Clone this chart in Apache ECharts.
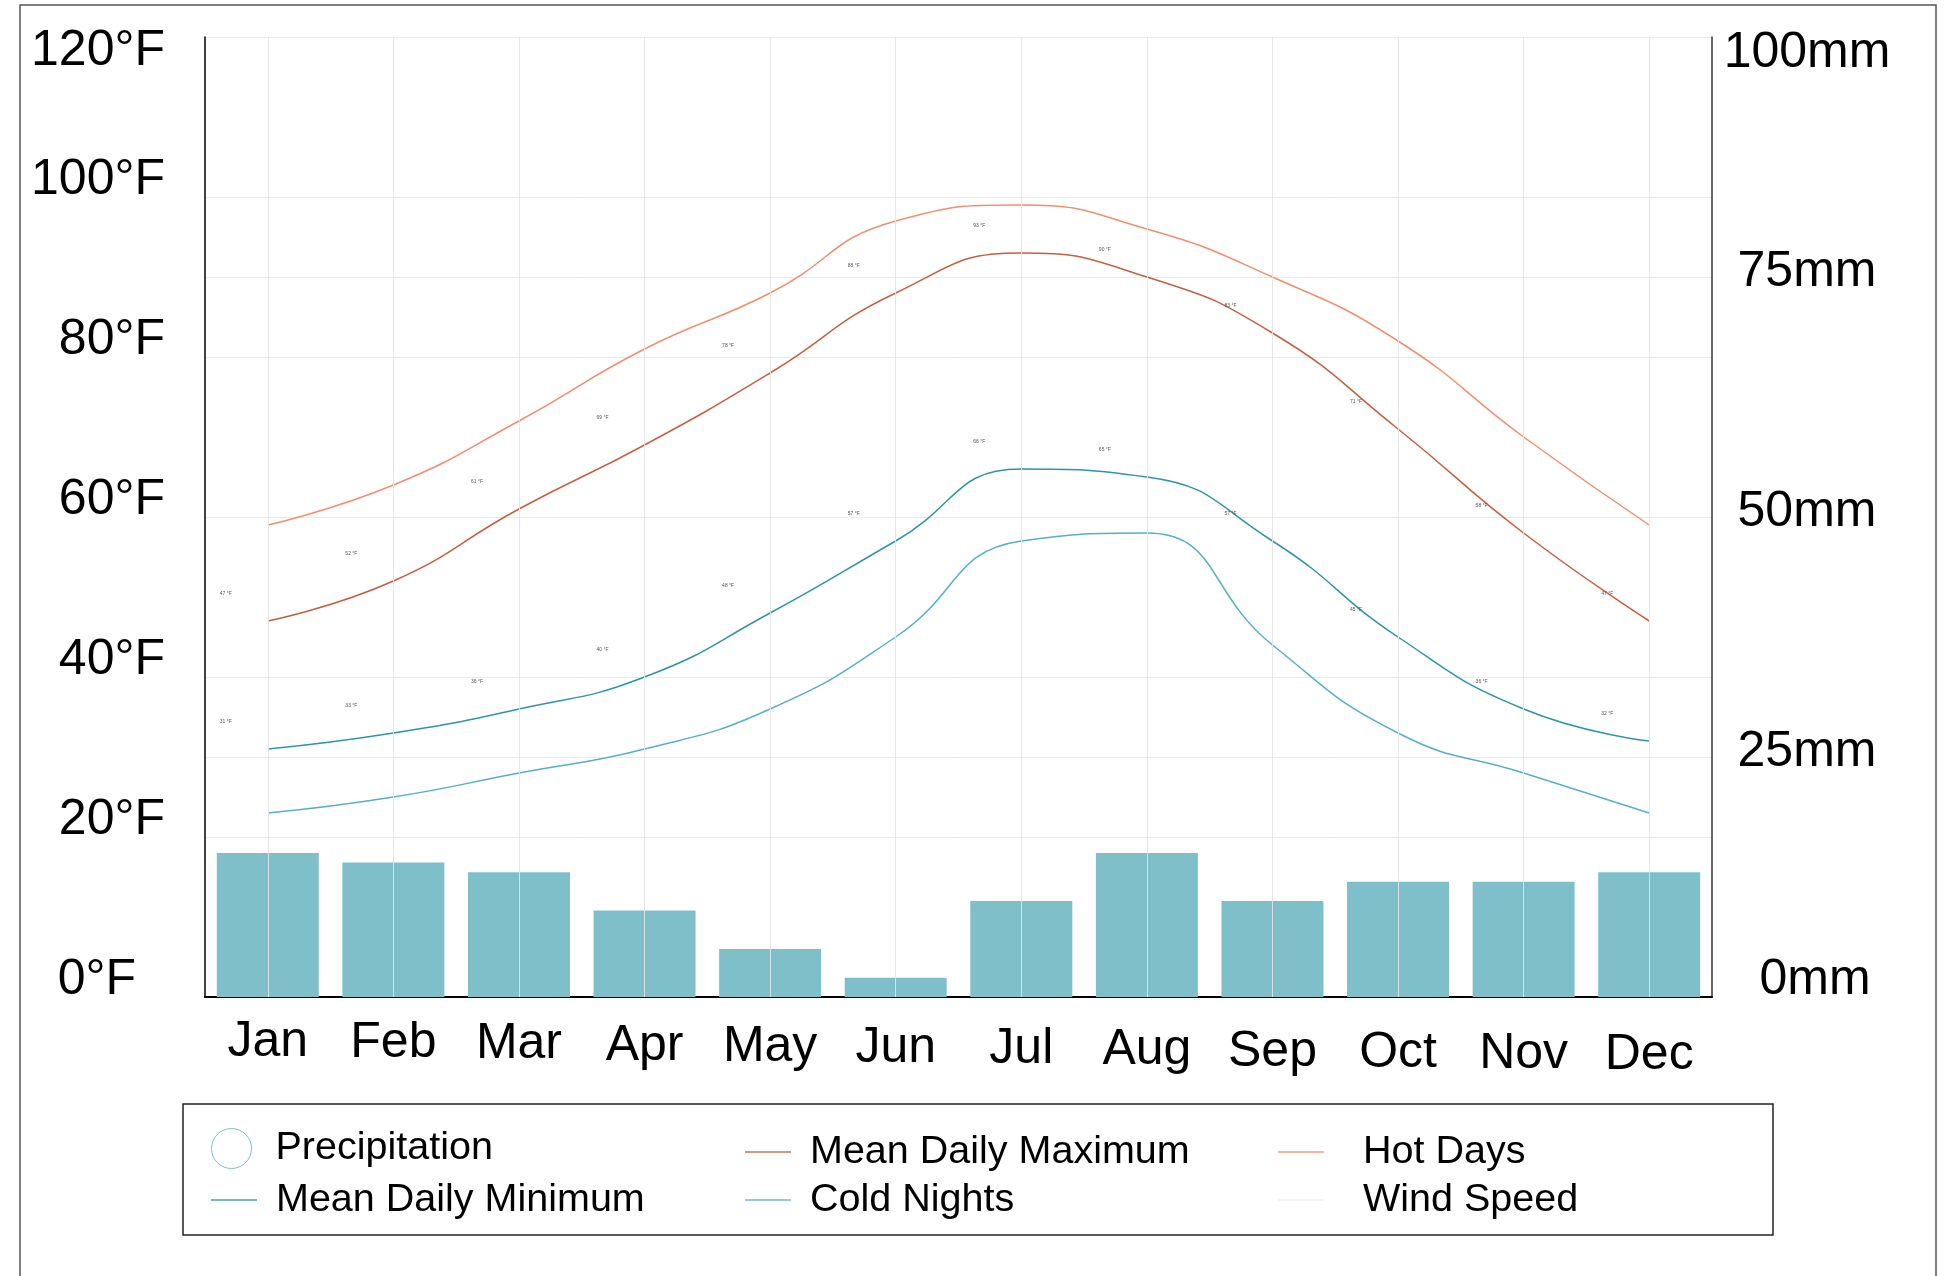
<!DOCTYPE html>
<html>
<head>
<meta charset="utf-8">
<style>
  html, body { margin: 0; padding: 0; background: #fff; }
  #climate { width: 1950px; height: 1276px; }
</style>
<script src="https://cdn.jsdelivr.net/npm/echarts@6/dist/echarts.min.js"></script>
</head>
<body>
<div id="climate"></div>
<script>
var months = ['Jan', 'Feb', 'Mar', 'Apr', 'May', 'Jun', 'Jul', 'Aug', 'Sep', 'Oct', 'Nov', 'Dec'];
// precipitation, mm
var precipitation = [15, 14, 13, 9, 5, 2, 10, 15, 10, 12, 12, 13];
// temperatures, °F
var meanDailyMax = [47, 52, 61, 69, 78, 88, 93, 90, 83, 71, 58, 47];
var hotDays = [59, 64, 72, 81, 88, 97, 99, 96, 90, 82, 70, 59];
var meanDailyMin = [31, 33, 36, 40, 48, 57, 66, 65, 57, 45, 36, 32];
var coldNights = [23, 25, 28, 31, 36, 45, 57, 58, 44, 33, 28, 23];
var windSpeed = [];
var tempTicks = [0, 20, 40, 60, 80, 100, 120];
var rainTicks = [0, 25, 50, 75, 100];

var FONT = '"Liberation Sans", Arial, sans-serif';

var climate = document.getElementById('climate');
var climateChart = echarts.init(climate);

// x labels drift down a little from Jan to Dec
var monthRich = {};
for (var k = 0; k < 12; k++) {
	monthRich['m' + k] = { fontSize: 50, fontFamily: FONT, color: '#000', padding: [Math.round(k * 1.2), 0, 0, 0] };
}

function tinyLabel() {
	return {
		show: true,
		formatter: '{c} °F',
		fontSize: 5,
		color: '#555',
		fontFamily: FONT,
		position: 'top',
		offset: [-42, -20]
	};
}

function lineSeries(name, data, color, withLabel) {
	return {
		name: name,
		type: 'line',
		yAxisIndex: 0,
		data: data,
		smooth: 0.5,
		symbol: 'circle',
		symbolSize: 0,
		showSymbol: true,
		itemStyle: { color: color },
		lineStyle: { color: color, width: 1.5 },
		label: withLabel ? tinyLabel() : { show: false },
		silent: true,
		z: 3
	};
}

function legendItem(name, left, top, icon, itemHeight, gap) {
	return {
		data: [{ name: name, icon: icon }],
		left: left,
		top: top,
		padding: 0,
		itemWidth: 46,
		itemHeight: itemHeight,
		selectedMode: false,
		itemStyle: icon === 'circle'
			? { color: '#fff', borderColor: '#7fbfca', borderWidth: 1 }
			: { opacity: 0.65 },
		formatter: function (n) { return '{t|' + n + '}'; },
		textStyle: {
			color: '#000',
			rich: { t: { fontSize: 39.5, fontFamily: FONT, color: '#000', lineHeight: 40, padding: [0, 0, 0, gap] } }
		}
	};
}

var option = {
	backgroundColor: '#fff',
	animation: false,
	grid: { left: 205, right: 238, top: 37, bottom: 279 },
	graphic: [
		{ type: 'rect', shape: { x: 20, y: 5, width: 1916, height: 1300 }, style: { fill: null, stroke: '#555', lineWidth: 1.5 }, silent: true },
		{ type: 'rect', shape: { x: 183, y: 1104, width: 1590, height: 131 }, style: { fill: null, stroke: '#222', lineWidth: 1.5 }, silent: true }
	],
	legend: [
		legendItem('Precipitation', 211, 1128, 'circle', 40, 16),
		legendItem('Mean Daily Minimum', 211, 1180, 'rect', 2, 14),
		legendItem('Mean Daily Maximum', 745, 1132, 'rect', 2, 14),
		legendItem('Cold Nights', 745, 1180, 'rect', 2, 14),
		legendItem('Hot Days', 1278, 1132, 'rect', 2, 34),
		legendItem('Wind Speed', 1278, 1180, 'rect', 2, 34)
	],
	xAxis: {
		type: 'category',
		data: months,
		boundaryGap: true,
		axisLine: { show: true, lineStyle: { color: '#000', width: 2 } },
		axisTick: { show: false },
		splitLine: { show: false },
		axisLabel: {
			margin: 20,
			formatter: function (v, i) { return '{m' + i + '|' + v + '}'; },
			rich: monthRich
		}
	},
	yAxis: [
		{
			type: 'value',
			position: 'left',
			min: tempTicks[0],
			max: tempTicks[tempTicks.length - 1],
			interval: 20,
			axisLine: { show: true, lineStyle: { color: '#000', width: 1.5 } },
			axisTick: { show: false },
			splitLine: { show: true, lineStyle: { color: '#ebebeb', width: 1 } },
			axisLabel: {
				margin: 40,
				formatter: function (v) {
					if (v === 120) return '{dn|' + v + '°F}';
					if (v === 0) return '{zero|' + v + '°F}';
					return '{up|' + v + '°F}';
				},
				rich: {
					up: { fontSize: 50, fontFamily: FONT, color: '#000', padding: [0, 0, 34, 0] },
					zero: { fontSize: 50, fontFamily: FONT, color: '#000', padding: [0, 29, 34, 0] },
					dn: { fontSize: 50, fontFamily: FONT, color: '#000', padding: [28, 0, 0, 0] }
				}
			}
		},
		{
			type: 'value',
			position: 'right',
			min: rainTicks[0],
			max: rainTicks[rainTicks.length - 1],
			interval: 25,
			axisLine: { show: true, lineStyle: { color: '#333', width: 1.5 } },
			axisTick: { show: false },
			splitLine: { show: true, lineStyle: { color: '#ebebeb', width: 1 } },
			axisLabel: {
				margin: 95,
				align: 'center',
				formatter: function (v) {
					if (v === 100) return '{dn|' + v + 'mm}';
					if (v === 0) return '{up2|' + v + 'mm}';
					return '{up|' + v + 'mm}';
				},
				rich: {
					up: { fontSize: 50, fontFamily: FONT, color: '#000', padding: [0, 0, 10, 0] },
					up2: { fontSize: 50, fontFamily: FONT, color: '#000', padding: [0, 0, 34, 16] },
					dn: { fontSize: 50, fontFamily: FONT, color: '#000', padding: [32, 0, 0, 0] }
				}
			}
		}
	],
	series: [
		{
			name: 'Precipitation',
			type: 'bar',
			yAxisIndex: 1,
			data: precipitation,
			barWidth: 102,
			itemStyle: { color: '#7fbfca' },
			silent: true,
			markLine: {
				silent: true,
				symbol: ['none', 'none'],
				label: { show: false },
				lineStyle: { color: '#e4e4e4', width: 1, type: 'solid', opacity: 0.9 },
				data: months.map(function (m) { return { xAxis: m }; })
			}
		},
		lineSeries('Mean Daily Maximum', meanDailyMax, '#c65f40', true),
		lineSeries('Hot Days', hotDays, '#f28e6e', false),
		lineSeries('Mean Daily Minimum', meanDailyMin, '#2e95a7', true),
		lineSeries('Cold Nights', coldNights, '#56b0c6', false),
		lineSeries('Wind Speed', windSpeed, '#eeeeee', false)
	]
};

if (option && typeof option === "object") {
	climateChart.setOption(option, true);
}
</script>
</body>
</html>
